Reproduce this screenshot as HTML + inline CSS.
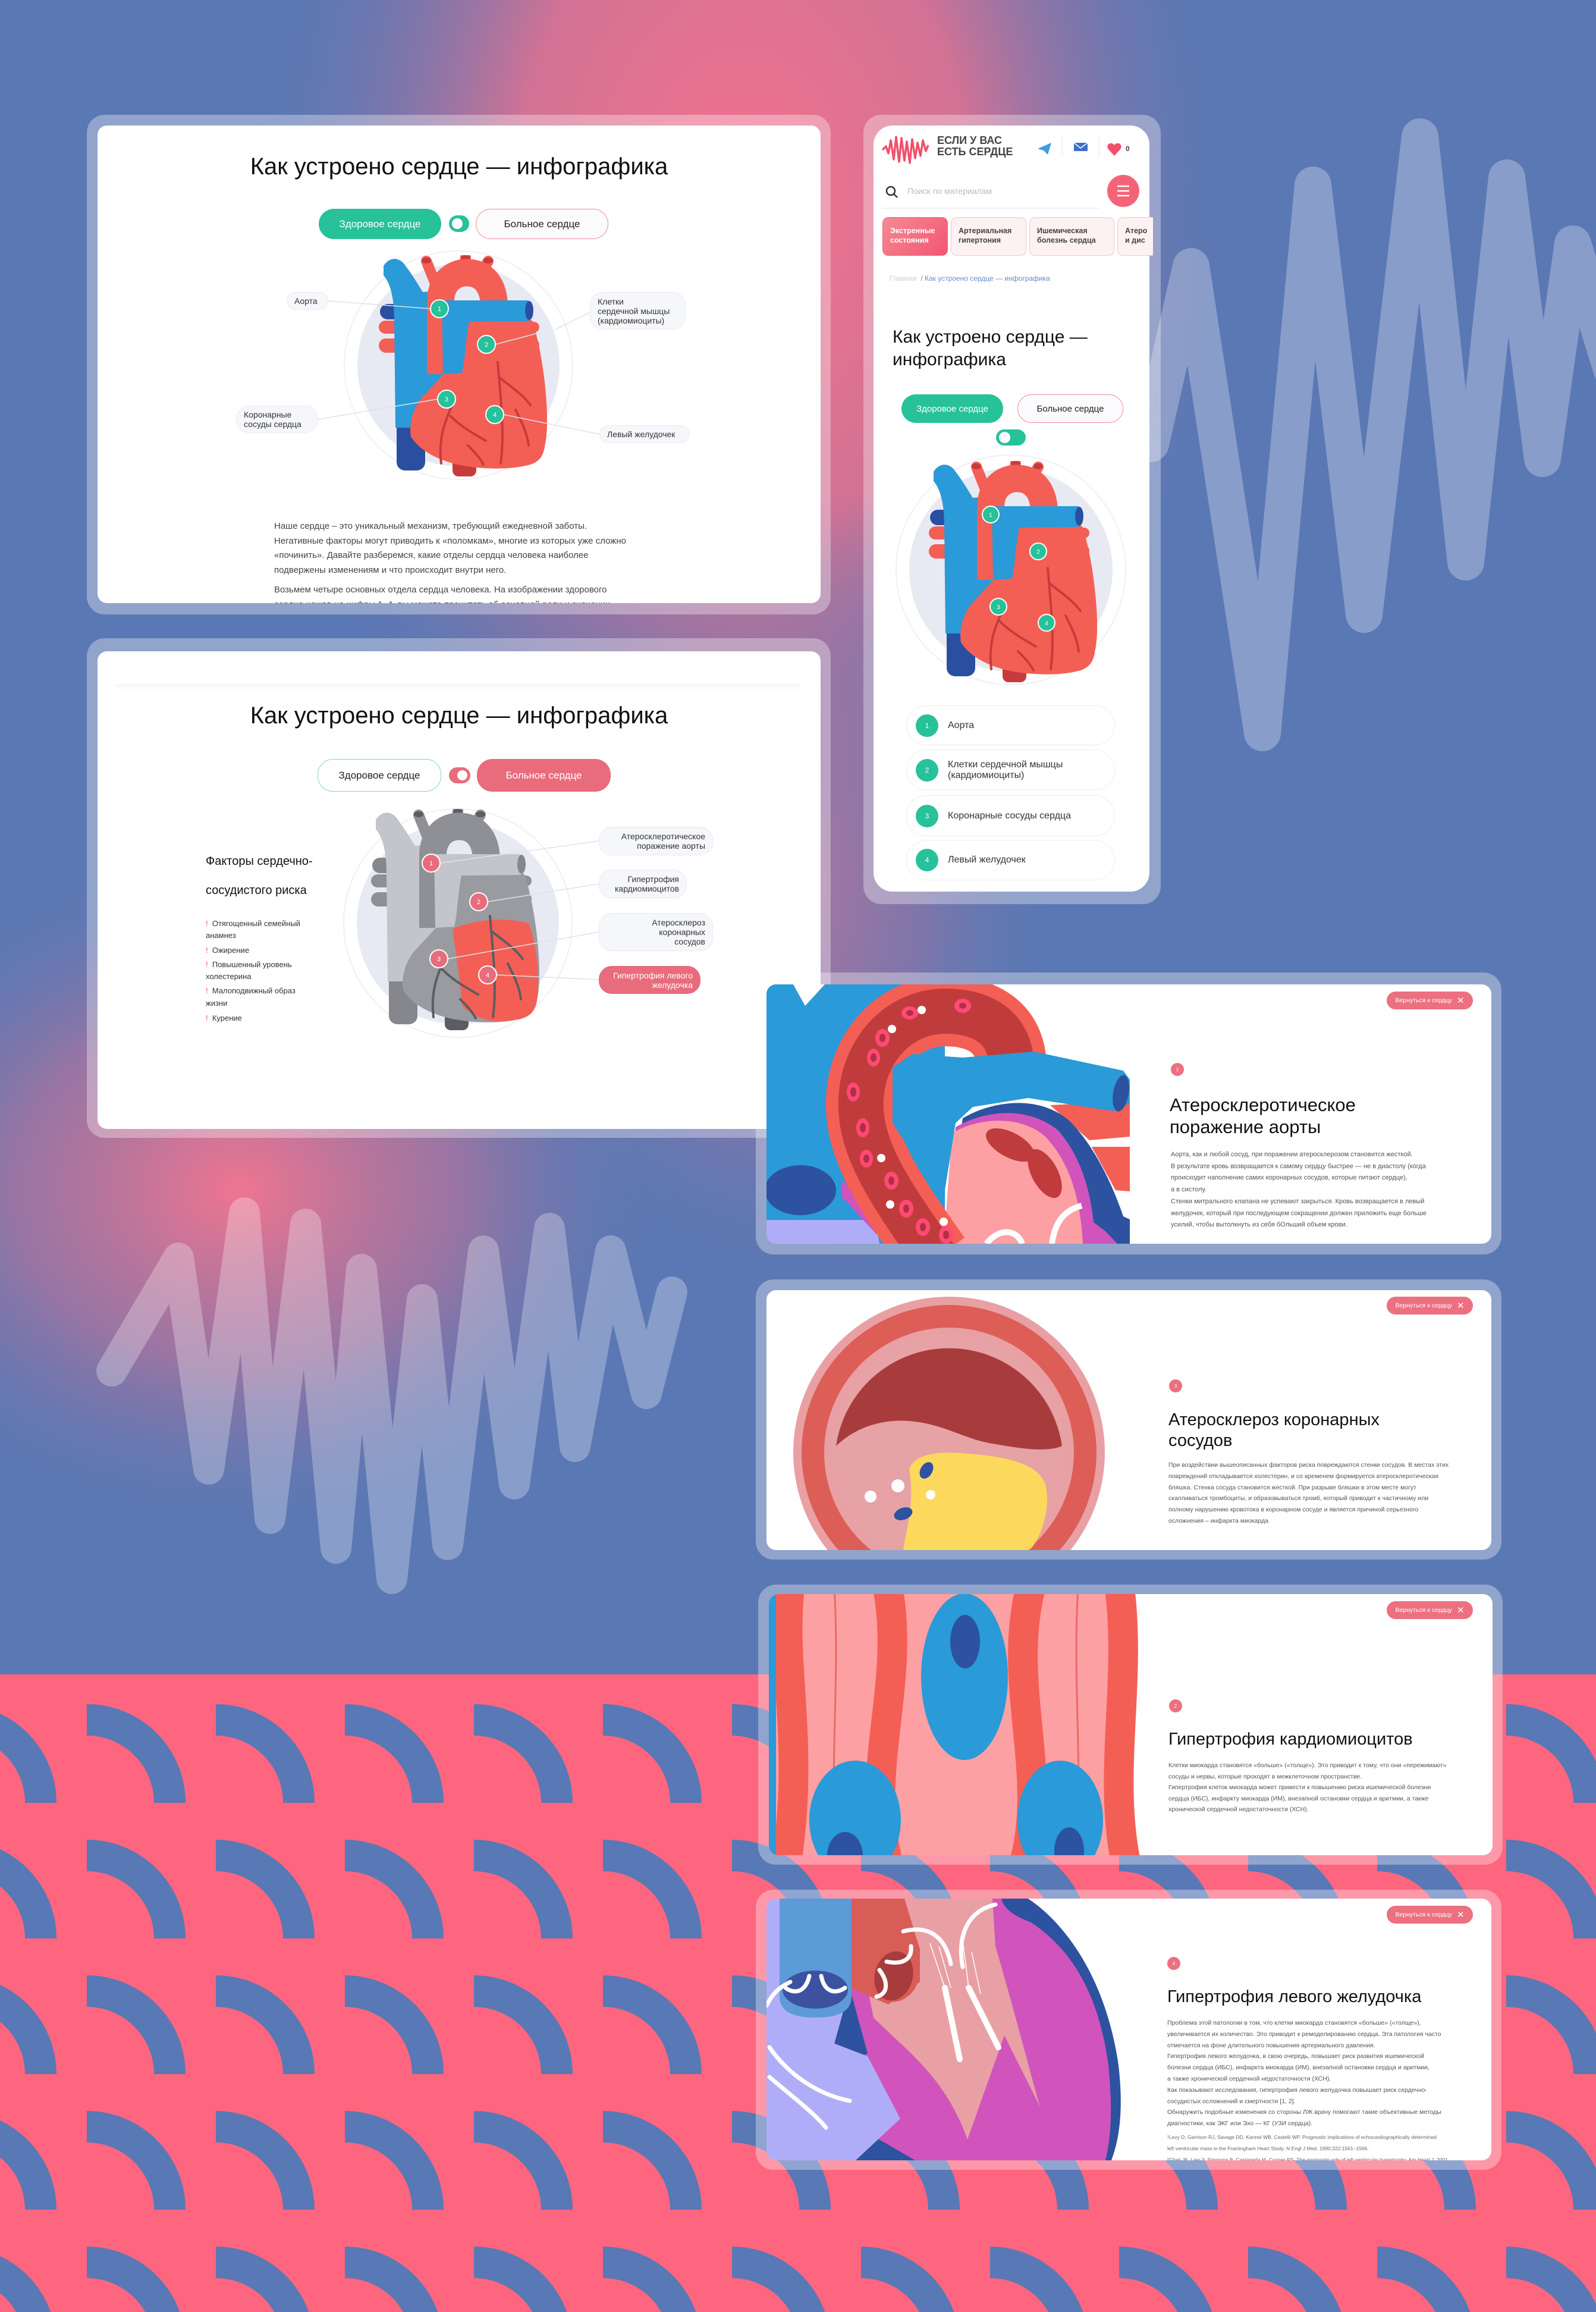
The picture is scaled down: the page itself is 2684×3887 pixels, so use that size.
<!DOCTYPE html>
<html><head><meta charset="utf-8">
<style>
*{margin:0;padding:0;box-sizing:border-box}
html,body{width:2684px;height:3887px;overflow:hidden;background:#5a78b4}
body{position:relative;font-family:"Liberation Sans","DejaVu Sans",sans-serif;color:#222}
.a{position:absolute}
.frame{position:absolute;background:rgba(255,255,255,.33);border-radius:30px}
.inner{position:absolute;background:#fff;border-radius:16px}
.t{position:absolute;white-space:nowrap}
.pill{position:absolute;background:#f6f7fa;border:1px solid #e9ebf2;border-radius:22px;font-size:14px;color:#333;line-height:16px;display:flex;flex-direction:column;justify-content:center;padding:0 12px}
.btn{position:absolute;border-radius:26px;display:flex;align-items:center;justify-content:center;font-size:17px}
.ret{position:absolute;width:145px;height:30px;border-radius:15px;background:#ec7080;color:#fff;font-size:10.5px;display:flex;align-items:center;justify-content:center;gap:8px}
.num{position:absolute;width:22px;height:22px;border-radius:50%;background:#ec7080;color:#fff;font-size:8px;display:flex;align-items:center;justify-content:center}
.h2{position:absolute;font-size:31px;line-height:37px;color:#111;white-space:nowrap}
.body{position:absolute;font-size:11px;line-height:19.2px;color:#555;white-space:nowrap}
.li{position:absolute;left:1524px;width:351px;background:#fff;border:1px solid #eceef4;border-radius:34px;font-size:16px;color:#333;display:flex;align-items:center;padding-left:69px;line-height:18px}
.li b{position:absolute;left:15px;width:38px;height:38px;border-radius:50%;background:#27c19a;color:#fff;font-size:12px;font-weight:normal;display:flex;align-items:center;justify-content:center}
.tab{position:absolute;top:365px;height:65px;border-radius:10px;background:#fdf1f2;border:1.5px solid #f6c4ca;font-size:12.5px;font-weight:bold;color:#444;line-height:16px;padding:14px 0 0 12px;white-space:nowrap;overflow:hidden}
</style></head><body>

<!-- BACKGROUND -->
<svg class="a" style="left:0;top:0" width="2684" height="3887">
<defs>
<radialGradient id="g1"><stop offset="0" stop-color="#f5728b"/><stop offset=".45" stop-color="#e7718f" stop-opacity=".85"/><stop offset="1" stop-color="#5a78b4" stop-opacity="0"/></radialGradient>
<radialGradient id="g2"><stop offset="0" stop-color="#ef7590"/><stop offset=".5" stop-color="#c27398" stop-opacity=".6"/><stop offset="1" stop-color="#5a78b4" stop-opacity="0"/></radialGradient>
<pattern id="arcs" patternUnits="userSpaceOnUse" x="146" y="2865" width="217" height="228">
<path d="M0,0 A166,166 0 0 1 166,166 L113,166 A113,113 0 0 0 0,53 Z" fill="#5878b6"/>
</pattern>
</defs>
<rect width="2684" height="3887" fill="#5a78b4"/>
<ellipse cx="1250" cy="350" rx="850" ry="1250" fill="url(#g1)"/>
<ellipse cx="400" cy="2000" rx="750" ry="600" fill="url(#g2)"/>
<ellipse cx="1300" cy="1500" rx="500" ry="700" fill="url(#g2)" opacity=".6"/>
<polyline points="1935,746 2003,448 2123,1232 2208,311 2294,1033 2388,230 2465,945 2534,299 2594,771 2645,410 2710,620" fill="none" stroke="#fff" stroke-opacity=".28" stroke-width="62" stroke-linejoin="round" stroke-linecap="round"/>
<polyline points="188,2305 300,2115 351,2470 411,2039 454,2553 514,2058 565,2603 608,2134 659,2654 710,2185 753,2597 813,2103 865,2495 924,2065 967,2432 1027,2103 1087,2343 1130,2172" fill="none" stroke="#fff" stroke-opacity=".28" stroke-width="52" stroke-linejoin="round" stroke-linecap="round"/>
<rect x="0" y="2815" width="2684" height="1072" fill="#fd667e"/>
<rect x="0" y="2815" width="2684" height="1072" fill="url(#arcs)"/>
</svg>

<!-- CARD FRAMES -->
<div class="frame" style="left:146px;top:193px;width:1251px;height:840px"></div>
<div class="inner" style="left:164px;top:211px;width:1216px;height:803px"></div>
<div class="frame" style="left:146px;top:1073px;width:1251px;height:840px"></div>
<div class="inner" style="left:164px;top:1095px;width:1216px;height:803px"></div>
<div class="a" style="left:195px;top:1150px;width:1150px;height:10px;background:linear-gradient(#f3f4f7,#fff)"></div>
<div class="frame" style="left:1452px;top:193px;width:500px;height:1327px"></div>
<div class="inner" style="left:1469px;top:211px;width:464px;height:1288px;border-radius:32px"></div>
<div class="frame" style="left:1271px;top:1635px;width:1254px;height:474px"></div>
<div class="inner" style="left:1289px;top:1655px;width:1219px;height:436px"></div>
<div class="frame" style="left:1271px;top:2151px;width:1254px;height:471px"></div>
<div class="inner" style="left:1289px;top:2169px;width:1219px;height:437px"></div>
<div class="frame" style="left:1275px;top:2664px;width:1252px;height:471px"></div>
<div class="inner" style="left:1293px;top:2680px;width:1217px;height:439px"></div>
<div class="frame" style="left:1271px;top:3177px;width:1254px;height:471px"></div>
<div class="inner" style="left:1289px;top:3192px;width:1219px;height:440px"></div>

<!-- GRAPHICS OVERLAY -->
<svg class="a" style="left:0;top:0" width="2684" height="3887">
<defs>
<symbol id="heart" viewBox="0 0 283 372">
 <rect x="2" y="82" width="40" height="26" rx="13" fill="var(--db)"/>
 <rect x="0" y="110" width="42" height="22" rx="11" fill="var(--r)"/>
 <rect x="0" y="140" width="42" height="24" rx="12" fill="var(--r)"/>
 <rect x="236" y="112" width="34" height="18" rx="9" fill="var(--r)"/>
 <rect x="236" y="140" width="34" height="22" rx="11" fill="var(--r)"/>
 <rect x="124" y="320" width="40" height="52" rx="10" fill="var(--dr)"/>
 <rect x="30" y="240" width="48" height="122" rx="14" fill="var(--db)"/>
 <path d="M8 18 C18 2 34 4 42 14 C56 32 64 46 74 62 L122 58 L126 190 C128 220 122 240 108 256 L78 290 L28 290 L26 110 C26 80 22 50 8 34 Z" fill="var(--b)"/>
 <path d="M96 50 L80 10 M142 30 L146 4 M168 38 L184 10" stroke="var(--r)" stroke-width="18" stroke-linecap="round" fill="none"/>
 <ellipse cx="80" cy="9" rx="8" ry="5" fill="var(--dr)"/><ellipse cx="146" cy="4" rx="8" ry="4" fill="var(--dr)"/><ellipse cx="184" cy="9" rx="8" ry="5" fill="var(--dr)"/>
 <path d="M104 200 L104 78 C104 42 130 26 156 30 C182 34 196 58 194 96" stroke="var(--r)" stroke-width="46" fill="none"/>
 <path d="M150 112 C190 102 240 100 258 110 C272 150 282 220 283 270 C284 320 276 344 255 352 C220 362 170 360 132 352 C100 344 70 330 54 305 C50 280 60 255 72 240 C95 215 115 195 124 180 C130 150 135 120 150 112 Z" fill="var(--rb)"/>
 <path d="M137 202 C170 188 215 180 265 192 C276 220 282 260 281 300 C280 330 276 345 255 352 C235 357 215 358 200 356 C175 350 160 340 153 330 C150 290 142 240 137 202 Z" fill="var(--v)"/>
 <path d="M106 76 L250 76 C262 78 262 108 250 111 L152 112 C146 140 146 170 140 198 L108 200 Z" fill="var(--b)"/>
 <ellipse cx="253" cy="93" rx="7" ry="16" fill="var(--db)"/>
 <path d="M200 180 C205 240 212 300 205 350 M202 205 C220 220 240 232 255 252 M125 250 C110 280 100 310 105 350 M120 270 C140 290 160 300 180 312 M150 320 C160 330 170 340 176 352 M230 260 C240 280 250 300 252 320" stroke="var(--dr)" stroke-width="4" fill="none" stroke-linecap="round"/>
</symbol>
<clipPath id="cA"><rect x="1289" y="1655" width="1219" height="436" rx="16"/></clipPath>
<clipPath id="cB"><rect x="1289" y="2169" width="1219" height="437" rx="16"/></clipPath>
<clipPath id="cC"><rect x="1293" y="2680" width="1217" height="439" rx="16"/></clipPath>
<clipPath id="cD"><rect x="1289" y="3192" width="1219" height="440" rx="16"/></clipPath>
</defs>

<!-- card1 heart -->
<circle cx="771" cy="614" r="192" fill="none" stroke="#eef0f5" stroke-width="2"/>
<circle cx="771" cy="614" r="170" fill="#e8eaf3"/>
<use href="#heart" x="637" y="429" width="283" height="372" style="--b:#2a9ad8;--db:#2b4fa0;--r:#f45f55;--dr:#c63c3c;--rb:#f45f55;--v:#f45f55"/>
<g stroke="#dfe2ea" stroke-width="1.5">
<line x1="552" y1="506" x2="724" y2="519"/><line x1="992" y1="525" x2="932" y2="555"/><line x1="833" y1="579" x2="905" y2="560"/>
<line x1="535" y1="705" x2="736" y2="671"/><line x1="1008" y1="730" x2="847" y2="697"/></g>
<g fill="#27c19a" stroke="#fff" stroke-width="2"><circle cx="739" cy="519" r="15"/><circle cx="818" cy="579" r="15"/><circle cx="751" cy="671" r="15"/><circle cx="832" cy="697" r="15"/></g>
<g fill="#fff" font-size="11" text-anchor="middle" font-family="Liberation Sans"><text x="739" y="523">1</text><text x="818" y="583">2</text><text x="751" y="675">3</text><text x="832" y="701">4</text></g>

<!-- card2 heart -->
<circle cx="770" cy="1552" r="192" fill="none" stroke="#eef0f5" stroke-width="2"/>
<circle cx="770" cy="1552" r="170" fill="#e8eaf3"/>
<use href="#heart" x="624" y="1360" width="283" height="372" style="--b:#c4c5cb;--db:#86878d;--r:#8f9096;--dr:#5c5d62;--rb:#9a9ba0;--v:#f45f55"/>
<g stroke="#dfe2ea" stroke-width="1.5">
<line x1="1007" y1="1414" x2="740" y2="1451"/><line x1="1007" y1="1486" x2="820" y2="1516"/><line x1="1007" y1="1567" x2="753" y2="1612"/><line x1="1007" y1="1647" x2="835" y2="1639"/></g>
<g fill="#e86c7c" stroke="#fff" stroke-width="2"><circle cx="725" cy="1451" r="15"/><circle cx="805" cy="1516" r="15"/><circle cx="738" cy="1612" r="15"/><circle cx="820" cy="1639" r="15"/></g>
<g fill="#fff" font-size="11" text-anchor="middle" font-family="Liberation Sans"><text x="725" y="1455">1</text><text x="805" y="1520">2</text><text x="738" y="1616">3</text><text x="820" y="1643">4</text></g>

<!-- mobile heart -->
<circle cx="1700" cy="958" r="193" fill="none" stroke="#eef0f5" stroke-width="2"/>
<circle cx="1700" cy="958" r="171" fill="#e8eaf3"/>
<use href="#heart" x="1562" y="775" width="283" height="372" style="--b:#2a9ad8;--db:#2b4fa0;--r:#f45f55;--dr:#c63c3c;--rb:#f45f55;--v:#f45f55"/>
<g fill="#27c19a" stroke="#fff" stroke-width="2"><circle cx="1666" cy="865" r="14"/><circle cx="1746" cy="927" r="14"/><circle cx="1679" cy="1020" r="14"/><circle cx="1760" cy="1047" r="14"/></g>
<g fill="#fff" font-size="10" text-anchor="middle" font-family="Liberation Sans"><text x="1666" y="869">1</text><text x="1746" y="931">2</text><text x="1679" y="1024">3</text><text x="1760" y="1051">4</text></g>

<!-- mobile logo & icons -->
<polyline points="1484,252 1490,246 1494,258 1498,236 1503,268 1507,230 1512,272 1516,232 1521,270 1525,238 1530,274 1534,234 1539,266 1543,240 1548,262 1552,236 1557,254 1561,244" fill="none" stroke="#f2506c" stroke-width="3.5" stroke-linejoin="round"/>
<path d="M1745 250 L1768 240 L1762 260 L1755 253 Z" fill="#3a9ee0"/>
<line x1="1786" y1="228" x2="1786" y2="262" stroke="#eee" stroke-width="1.5"/>
<rect x="1806" y="240" width="23" height="14" fill="#3c6fc8"/><path d="M1806 240 L1817 249 L1829 240" stroke="#fff" stroke-width="1.5" fill="none"/>
<line x1="1848" y1="228" x2="1848" y2="262" stroke="#eee" stroke-width="1.5"/>
<path d="M1874 262 L1864 251 C1860 246 1864 240 1869 241 C1872 241 1874 244 1874 244 C1874 244 1876 241 1879 241 C1884 240 1888 246 1884 251 Z" fill="#f2506c"/>
<circle cx="1498" cy="321" r="7" fill="none" stroke="#333" stroke-width="2.5"/><line x1="1503" y1="326" x2="1509" y2="332" stroke="#333" stroke-width="2.5"/>
<line x1="1484" y1="350" x2="1849" y2="350" stroke="#e6e6ea" stroke-width="1"/>
<circle cx="1889" cy="321" r="27" fill="#f46478"/>
<g stroke="#fff" stroke-width="2.5"><line x1="1879" y1="313" x2="1899" y2="313"/><line x1="1879" y1="321" x2="1899" y2="321"/><line x1="1879" y1="329" x2="1899" y2="329"/></g>

<!-- CARD A illustration -->
<g clip-path="url(#cA)"><g transform="translate(1289,1655)">
<rect width="611" height="436" fill="#fff"/>
<rect width="300" height="436" fill="#2a9ad8"/>
<polygon points="45,0 65,36 98,0" fill="#fff"/>
<polygon points="0,396 183,396 190,436 0,436" fill="#b0adf8"/>
<polygon points="130,330 185,400 185,420 120,350" fill="#d054bc"/>
<ellipse cx="57" cy="346" rx="70" ry="50" fill="#2a9ad8"/>
<ellipse cx="57" cy="346" rx="60" ry="42" fill="#2c52a0"/>
<polygon points="477,203 611,196 611,256 543,262" fill="#f45f55"/>
<polygon points="547,273 611,273 611,348 587,346" fill="#f45f55"/>
<path d="M330 225 C380 195 460 185 510 230 C560 280 590 360 600 390 L611 395 L611 436 L300 436 Z" fill="#2c52a0"/>
<path d="M318 240 C370 210 440 205 490 245 C530 290 545 350 550 400 L570 415 L590 436 L300 436 Z" fill="#d054bc"/>
<path d="M312 250 C360 222 430 220 470 257 C510 300 528 360 532 436 L298 436 Z" fill="#fca0a4"/>
<ellipse cx="410" cy="270" rx="45" ry="21" transform="rotate(28 410 270)" fill="#c03c3c"/>
<ellipse cx="468" cy="318" rx="22" ry="45" transform="rotate(-28 468 318)" fill="#c03c3c"/>
<path d="M480 436 C485 400 500 380 530 372" stroke="#fff" stroke-width="10" fill="none"/>
<path d="M370 436 C390 410 420 410 430 436" stroke="#fff" stroke-width="10" fill="none"/>
<path d="M285 460 C200 340 150 265 160 180 C170 100 230 45 300 45 C360 45 412 70 412 140" stroke="#f45f55" stroke-width="118" fill="none"/>
<path d="M285 460 C200 340 150 265 160 180 C170 100 230 45 300 45 C360 45 412 70 412 140" stroke="#c03c3c" stroke-width="76" fill="none"/>
<path d="M212 140 L245 117 L330 123 L450 113 L600 145 L611 160 L611 200 L583 213 L440 191 L347 206 L318 233 L300 346 L255 300 L212 233 Z" fill="#2a9ad8"/>
<ellipse cx="596" cy="183" rx="13" ry="31" transform="rotate(10 596 183)" fill="#2c52a0"/>
<g fill="#ff4a74"><ellipse cx="241" cy="48" rx="14" ry="11"/><ellipse cx="195" cy="90" rx="12" ry="15"/><ellipse cx="180" cy="123" rx="11" ry="15"/><ellipse cx="146" cy="181" rx="11" ry="16"/><ellipse cx="162" cy="241" rx="11" ry="16"/><ellipse cx="168" cy="293" rx="11" ry="15"/><ellipse cx="210" cy="330" rx="12" ry="15"/><ellipse cx="235" cy="377" rx="12" ry="15"/><ellipse cx="263" cy="408" rx="12" ry="15"/><ellipse cx="302" cy="421" rx="12" ry="15"/><ellipse cx="330" cy="36" rx="14" ry="12"/></g>
<g fill="#b02f45"><ellipse cx="241" cy="48" rx="6" ry="5"/><ellipse cx="195" cy="90" rx="5" ry="7"/><ellipse cx="180" cy="123" rx="5" ry="7"/><ellipse cx="146" cy="181" rx="5" ry="8"/><ellipse cx="162" cy="241" rx="5" ry="8"/><ellipse cx="168" cy="293" rx="5" ry="7"/><ellipse cx="210" cy="330" rx="5" ry="7"/><ellipse cx="235" cy="377" rx="5" ry="7"/><ellipse cx="263" cy="408" rx="5" ry="7"/><ellipse cx="302" cy="421" rx="5" ry="7"/><ellipse cx="330" cy="36" rx="6" ry="5"/></g>
<g fill="#fff"><circle cx="261" cy="43" r="7"/><circle cx="211" cy="75" r="7"/><circle cx="193" cy="292" r="7"/><circle cx="208" cy="370" r="7"/><circle cx="298" cy="399" r="7"/></g>
</g></g>

<!-- CARD B illustration -->
<g clip-path="url(#cB)"><g transform="translate(1289,2169)">
<circle cx="307" cy="273" r="262" fill="#e8a0a4"/>
<circle cx="307" cy="273" r="248" fill="#dc5e56"/>
<circle cx="307" cy="273" r="210" fill="#e8a0a4"/>
<circle cx="307" cy="273" r="198" fill="#e6a2a4"/>
<path d="M117 262 A192 192 0 0 1 497 262 C470 274 420 265 380 258 C330 250 300 225 240 220 C180 216 140 240 117 262 Z" fill="#a83c3c"/>
<path d="M240 300 C250 275 290 270 340 275 C400 280 460 290 470 330 C480 380 450 437 440 437 L230 437 C235 400 250 360 240 300 Z" fill="#fcd95c"/>
<circle cx="175" cy="347" r="10" fill="#fff"/><circle cx="221" cy="329" r="11" fill="#fff"/><circle cx="276" cy="344" r="8" fill="#fff"/>
<ellipse cx="269" cy="303" rx="10" ry="15" transform="rotate(30 269 303)" fill="#2c52a0"/>
<ellipse cx="230" cy="376" rx="16" ry="10" transform="rotate(-20 230 376)" fill="#2c52a0"/>
</g></g>

<!-- CARD C illustration -->
<g clip-path="url(#cC)"><g transform="translate(1293,2680)">
<rect width="607" height="439" fill="#fca0a4"/>
<g fill="none" stroke="#f45f55" stroke-width="50">
<path d="M35 -10 C20 120 60 250 30 450"/><path d="M200 -10 C230 150 160 300 200 450"/><path d="M440 -10 C400 150 470 300 430 450"/><path d="M590 -10 C610 150 570 300 600 450"/></g>
<g fill="none" stroke="#e86a66" stroke-width="3"><path d="M110 -10 C120 150 100 300 115 450"/><path d="M520 -10 C510 150 530 300 515 450"/></g>
<ellipse cx="329" cy="139" rx="73" ry="140" fill="#2a9ad8"/><ellipse cx="330" cy="80" rx="25" ry="45" fill="#2c52a0"/>
<ellipse cx="145" cy="380" rx="77" ry="100" fill="#2a9ad8"/><ellipse cx="128" cy="440" rx="30" ry="40" fill="#2c52a0"/>
<ellipse cx="490" cy="380" rx="72" ry="100" fill="#2a9ad8"/><ellipse cx="505" cy="432" rx="25" ry="40" fill="#2c52a0"/>
<rect x="0" width="12" height="439" fill="#2a9ad8"/>
</g></g>

<!-- CARD D illustration -->
<g clip-path="url(#cD)"><g transform="translate(1289,3192)">
<rect width="611" height="440" fill="#fff"/>
<rect width="400" height="440" fill="#b0adf8"/>
<path d="M380 0 L440 0 C500 40 570 130 592 280 C600 350 595 400 580 440 L60 440 L140 150 Z" fill="#2c52a0"/>
<path d="M140 150 L380 0 L395 0 C400 20 420 30 445 40 C520 90 560 170 575 280 C582 350 580 400 570 440 L250 440 L60 330 L170 260 Z" fill="#d054bc"/>
<path d="M140 0 L380 0 L385 80 C420 200 440 280 460 350 L400 230 L338 405 C300 300 240 260 180 200 Z" fill="#e8a0a4"/>
<path d="M0 200 L170 265 L225 370 L150 440 L0 440 Z" fill="#b0adf8"/>
<path d="M141 0 L232 0 L258 85 L258 140 L205 178 L141 150 Z" fill="#d85d57"/>
<ellipse cx="216" cy="126" rx="41" ry="48" transform="rotate(15 216 126)" fill="#d85d57"/>
<ellipse cx="214" cy="130" rx="32" ry="42" transform="rotate(15 214 130)" fill="#a83c3c"/>
<path d="M22 0 L143 0 L143 165 C143 190 120 200 82 200 C45 200 22 190 22 165 Z" fill="#5c9ad8"/>
<ellipse cx="82" cy="153" rx="55" ry="32" fill="#3c52a0"/>
<g stroke="#fff" stroke-width="7" fill="none" stroke-linecap="round">
<path d="M32 150 C45 160 65 160 72 130"/><path d="M92 130 C98 160 118 160 132 150"/>
<path d="M243 80 C245 100 232 112 202 106"/><path d="M190 120 C205 140 205 160 185 165"/>
<path d="M230 55 C270 45 300 60 310 110"/><path d="M385 10 C340 20 320 60 330 115"/>
<path d="M0 180 C10 160 20 150 40 140"/><path d="M5 250 C40 300 90 330 140 340"/><path d="M5 300 C40 330 80 360 100 385"/></g>
<g stroke="#fff" stroke-width="10" stroke-linecap="round"><line x1="300" y1="150" x2="325" y2="270"/><line x1="340" y1="150" x2="390" y2="250"/></g>
<g stroke="#fff" stroke-width="1.5"><line x1="275" y1="75" x2="300" y2="150"/><line x1="290" y1="80" x2="310" y2="150"/><line x1="330" y1="70" x2="340" y2="150"/><line x1="345" y1="90" x2="360" y2="160"/></g>
</g></g>
</svg>

<!-- CARD 1 TEXT -->
<div class="t" style="left:164px;width:1216px;top:254px;text-align:center;font-size:40px;line-height:52px;color:#111">Как устроено сердце — инфографика</div>
<div class="btn" style="left:536px;top:351px;width:206px;height:51px;background:#27c19a;color:#fff">Здоровое сердце</div>
<div class="a" style="left:755px;top:362px;width:34px;height:28px;border-radius:14px;background:#27c19a"><div class="a" style="left:5px;top:5px;width:18px;height:18px;border-radius:50%;background:#fff"></div></div>
<div class="btn" style="left:800px;top:351px;width:223px;height:51px;border:1.5px solid #f08a9a;background:#fbfbfd;color:#222">Больное сердце</div>
<div class="pill" style="left:482px;top:491px;width:70px;height:30px">Аорта</div>
<div class="pill" style="left:992px;top:491px;width:161px;height:63px">Клетки<br>сердечной мышцы<br>(кардиомиоциты)</div>
<div class="pill" style="left:397px;top:682px;width:138px;height:46px">Коронарные<br>сосуды сердца</div>
<div class="pill" style="left:1008px;top:715px;width:152px;height:30px">Левый желудочек</div>
<div class="a" style="left:164px;top:211px;width:1216px;height:803px;overflow:hidden;border-radius:16px">
<div class="t" style="left:297px;top:662px;font-size:15px;line-height:24.6px;color:#444">Наше сердце – это уникальный механизм, требующий ежедневной заботы.<br>Негативные факторы могут приводить к «поломкам», многие из которых уже сложно<br>«починить». Давайте разберемся, какие отделы сердца человека наиболее<br>подвержены изменениям и что происходит внутри него.</div>
<div class="t" style="left:297px;top:769px;font-size:15px;line-height:24.6px;color:#444">Возьмем четыре основных отдела сердца человека. На изображении здорового<br>сердца нажав на цифры 1–4, вы можете прочитать об основной роли и значении</div>
</div>

<!-- CARD 2 TEXT -->
<div class="t" style="left:164px;width:1216px;top:1177px;text-align:center;font-size:40px;line-height:52px;color:#111">Как устроено сердце — инфографика</div>
<div class="btn" style="left:534px;top:1276px;width:208px;height:55px;border:1.5px solid #7dd8c0;background:#fff;color:#222">Здоровое сердце</div>
<div class="a" style="left:755px;top:1290px;width:36px;height:27px;border-radius:14px;background:#e86c7c"><div class="a" style="left:14px;top:5px;width:17px;height:17px;border-radius:50%;background:#fff"></div></div>
<div class="btn" style="left:802px;top:1276px;width:225px;height:55px;background:#e86c7c;color:#fff">Больное сердце</div>
<div class="t" style="left:346px;top:1434px;font-size:20px;line-height:28px;color:#111">Факторы сердечно-</div>
<div class="t" style="left:346px;top:1483px;font-size:20px;line-height:28px;color:#111">сосудистого риска</div>
<div class="t" style="left:346px;top:1543px;font-size:13px;line-height:20px;color:#333"><span style="color:#e8506a">!</span>&nbsp; Отягощенный семейный<br>анамнез</div>
<div class="t" style="left:346px;top:1588px;font-size:13px;line-height:20px;color:#333"><span style="color:#e8506a">!</span>&nbsp; Ожирение</div>
<div class="t" style="left:346px;top:1612px;font-size:13px;line-height:20px;color:#333"><span style="color:#e8506a">!</span>&nbsp; Повышенный уровень<br>холестерина</div>
<div class="t" style="left:346px;top:1656px;font-size:13px;line-height:20.5px;color:#333"><span style="color:#e8506a">!</span>&nbsp; Малоподвижный образ<br>жизни</div>
<div class="t" style="left:346px;top:1702px;font-size:13px;line-height:20px;color:#333"><span style="color:#e8506a">!</span>&nbsp; Курение</div>
<div class="pill" style="left:1007px;top:1390px;width:192px;height:48px;text-align:right">Атеросклеротическое<br>поражение аорты</div>
<div class="pill" style="left:1007px;top:1462px;width:148px;height:48px;text-align:right">Гипертрофия<br>кардиомиоцитов</div>
<div class="pill" style="left:1007px;top:1535px;width:192px;height:64px;text-align:right">Атеросклероз<br>коронарных<br>сосудов</div>
<div class="pill" style="left:1007px;top:1624px;width:171px;height:47px;text-align:right;background:#e86c7c;border-color:#e86c7c;color:#fff">Гипертрофия левого<br>желудочка</div>

<!-- MOBILE TEXT -->
<div class="t" style="left:1576px;top:227px;font-size:18px;line-height:19px;font-weight:bold;color:#444">ЕСЛИ У ВАС<br>ЕСТЬ СЕРДЦЕ</div>
<div class="t" style="left:1893px;top:243px;font-size:12px;font-weight:bold;color:#444">0</div>
<div class="t" style="left:1526px;top:313px;font-size:14px;color:#bbb">Поиск по материалам</div>
<div class="tab" style="left:1484px;width:110px;background:linear-gradient(135deg,#f58a95,#f25670);border-color:#f46478;color:#fff">Экстренные<br>состояния</div>
<div class="tab" style="left:1599px;width:127px">Артериальная<br>гипертония</div>
<div class="tab" style="left:1731px;width:143px">Ишемическая<br>болезнь сердца</div>
<div class="tab" style="left:1879px;width:60px;border-right:none;border-radius:10px 0 0 10px">Атеро<br>и дис</div>
<div class="t" style="left:1496px;top:461px;font-size:12px;color:#ccc">Главная&nbsp; <span style="color:#6a8ac8">/ Как устроено сердце — инфографика</span></div>
<div class="t" style="left:1501px;top:548px;font-size:30px;line-height:38px;color:#111">Как устроено сердце —<br>инфографика</div>
<div class="btn" style="left:1516px;top:663px;width:171px;height:48px;background:#27c19a;color:#fff;font-size:15px">Здоровое сердце</div>
<div class="btn" style="left:1711px;top:663px;width:178px;height:48px;border:1.5px solid #f08a9a;background:#fbfbfd;color:#222;font-size:15px">Больное сердце</div>
<div class="a" style="left:1675px;top:722px;width:50px;height:27px;border-radius:14px;background:#27c19a"><div class="a" style="left:5px;top:4px;width:19px;height:19px;border-radius:50%;background:#fff"></div></div>
<div class="li" style="top:1186px;height:67px"><b>1</b>Аорта</div>
<div class="li" style="top:1260px;height:69px"><b>2</b>Клетки сердечной мышцы<br>(кардиомиоциты)</div>
<div class="li" style="top:1337px;height:69px"><b>3</b>Коронарные сосуды сердца</div>
<div class="li" style="top:1412px;height:68px"><b>4</b>Левый желудочек</div>

<!-- CARD A TEXT -->
<div class="ret" style="left:2332px;top:1667px">Вернуться к сердцу <span style="font-size:15px">✕</span></div>
<div class="num" style="left:1969px;top:1787px">1</div>
<div class="h2" style="left:1967px;top:1839px">Атеросклеротическое<br>поражение аорты</div>
<div class="body" style="left:1969px;top:1932px;line-height:19.7px">Аорта, как и любой сосуд, при поражении атеросклерозом становится жесткой.<br>В результате кровь возвращается к самому сердцу быстрее — не в диастолу (когда<br>происходит наполнение самих коронарных сосудов, которые питают сердце),<br>а в систолу.<br>Стенки митрального клапана не успевают закрыться. Кровь возвращается в левый<br>желудочек, который при последующем сокращении должен приложить еще больше<br>усилий, чтобы вытолкнуть из себя бОльший объем крови.</div>

<!-- CARD B TEXT -->
<div class="ret" style="left:2332px;top:2180px">Вернуться к сердцу <span style="font-size:15px">✕</span></div>
<div class="num" style="left:1966px;top:2319px">3</div>
<div class="h2" style="left:1965px;top:2370px;font-size:29px;line-height:35px">Атеросклероз коронарных<br>сосудов</div>
<div class="body" style="left:1965px;top:2454px;font-size:10.5px;line-height:18.8px">При воздействии вышеописанных факторов риска повреждаются стенки сосудов. В местах этих<br>повреждений откладывается холестерин, и со временем формируется атеросклеротическая<br>бляшка. Стенка сосуда становится жесткой. При разрыве бляшки в этом месте могут<br>скапливаться тромбоциты, и образовываться тромб, который приводит к частичному или<br>полному нарушению кровотока в коронарном сосуде и является причиной серьезного<br>осложнения – инфаркта миокарда</div>

<!-- CARD C TEXT -->
<div class="ret" style="left:2332px;top:2692px">Вернуться к сердцу <span style="font-size:15px">✕</span></div>
<div class="num" style="left:1966px;top:2857px">2</div>
<div class="h2" style="left:1965px;top:2907px;font-size:29px;line-height:35px">Гипертрофия кардиомиоцитов</div>
<div class="body" style="left:1965px;top:2959px;font-size:10.5px;line-height:18.5px">Клетки миокарда становятся «больше» («толще»). Это приводит к тому, что они «пережимают»<br>сосуды и нервы, которые проходят в межклеточном пространстве.<br>Гипертрофия клеток миокарда может привести к повышению риска ишемической болезни<br>сердца (ИБС), инфаркту миокарда (ИМ), внезапной остановки сердца и аритмии, а также<br>хронической сердечной недостаточности (ХСН).</div>

<!-- CARD D TEXT -->
<div class="ret" style="left:2332px;top:3204px">Вернуться к сердцу <span style="font-size:15px">✕</span></div>
<div class="num" style="left:1963px;top:3290px">4</div>
<div class="h2" style="left:1963px;top:3340px;font-size:29px;line-height:35px">Гипертрофия левого желудочка</div>
<div class="a" style="left:1289px;top:3192px;width:1219px;height:440px;overflow:hidden;border-radius:16px">
<div class="body" style="left:674px;top:200px;font-size:10.5px;line-height:18.8px">Проблема этой патологии в том, что клетки миокарда становятся «больше» («толще»),<br>увеличивается их количество. Это приводит к ремоделированию сердца. Эта патология часто<br>отмечается на фоне длительного повышения артериального давления.<br>Гипертрофия левого желудочка, в свою очередь, повышает риск развития ишемической<br>болезни сердца (ИБС), инфаркта миокарда (ИМ), внезапной остановки сердца и аритмии,<br>а также хронической сердечной недостаточности (ХСН).<br>Как показывают исследования, гипертрофия левого желудочка повышает риск сердечно-<br>сосудистых осложнений и смертности [1, 2].<br>Обнаружить подобные изменения со стороны ЛЖ врачу помогают такие объективные методы<br>диагностики, как ЭКГ или Эхо — КГ (УЗИ сердца).</div>
<div class="body" style="left:674px;top:392px;font-size:8.5px;line-height:19px;color:#666">¹Levy D, Garrison RJ, Savage DD, Kannel WB, Castelli WP. Prognostic implications of echocardiographically determined<br>left ventricular mass in the Framingham Heart Study. N Engl J Med. 1990;322:1561–1566.<br>²Ghali JK, Liao Y, Simmons B, Castaneda M, Cooper RS. The prognostic role of left ventricular hypertrophy. Am Heart J. 2001</div>
</div>

</body></html>
